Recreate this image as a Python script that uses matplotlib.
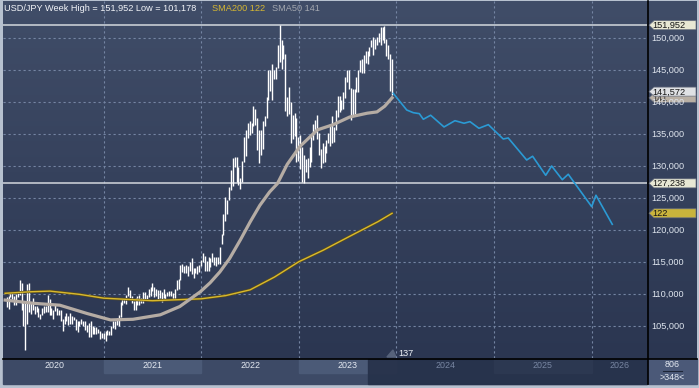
import numpy as np
import pandas as pd
import matplotlib
matplotlib.use("Agg")
import matplotlib.pyplot as plt
from matplotlib.patches import Rectangle, Polygon
from matplotlib.colors import LinearSegmentedColormap

plt.rcParams['font.family'] = ['Liberation Sans', 'DejaVu Sans']

# ---------------- data ----------------
week_start = "2019-12-30"
highs_2020 = [109.55, 109.65, 110.3, 110.2, 109.6, 110.0, 110.15, 112.2, 111.7, 108.5, 108.5, 111.5, 111.7,
              108.7, 109.4, 108.1, 108.1, 107.8, 106.9, 107.8, 108.1, 108.1, 109.85, 109.2, 107.7, 107.4,
              108.2, 107.8, 107.4, 107.4, 106.0, 106.5, 107.05, 106.5, 106.95, 106.55, 106.4, 106.0, 105.7,
              105.8, 106.1, 105.75, 105.75, 105.1, 105.35, 105.7, 104.9, 104.75, 104.75, 104.45, 104.2,
              103.85, 103.8]
lows_2020 = [107.85, 107.65, 109.45, 109.2, 108.3, 108.3, 109.55, 109.75, 107.5, 105.0, 101.178, 105.2, 107.2,
             106.9, 107.5, 106.9, 107.2, 106.4, 106.0, 106.7, 107.0, 107.1, 107.2, 106.6, 106.6, 106.1,
             107.3, 106.6, 106.6, 105.7, 104.2, 105.3, 105.8, 105.1, 105.2, 105.2, 105.9, 104.3, 104.0,
             104.9, 105.2, 105.0, 104.3, 104.0, 103.2, 103.2, 103.65, 103.65, 103.7, 103.85, 102.9,
             103.1, 102.95]
highs_2021 = [104.1, 104.4, 104.1, 104.9, 105.8, 105.7, 106.2, 106.7, 108.65, 109.3, 109.4, 109.85, 110.97,
              110.5, 109.7, 108.9, 109.4, 109.7, 109.8, 109.4, 110.2, 110.3, 109.8, 110.8, 111.1, 111.65,
              111.0, 110.7, 110.6, 110.6, 110.3, 110.8, 109.9, 110.3, 110.4, 110.45, 110.05, 110.8, 112.1,
              112.25, 114.45, 114.7, 114.3, 114.45, 114.3, 114.95, 115.5, 113.95, 113.95, 114.3, 114.5, 115.2]
lows_2021 = [102.6, 103.5, 103.5, 103.5, 104.6, 104.5, 105.1, 105.0, 106.3, 108.2, 108.6, 108.4, 109.6,
             109.3, 108.6, 107.5, 107.5, 108.3, 108.3, 108.6, 108.6, 109.2, 109.2, 109.5, 109.7, 110.4,
             109.5, 109.6, 109.1, 109.35, 108.7, 109.4, 109.1, 109.6, 109.6, 109.6, 109.1, 109.1, 110.6,
             110.8, 112.1, 113.4, 113.3, 113.3, 112.7, 113.6, 113.1, 112.5, 113.2, 113.1, 113.4, 114.4]
highs_2022 = [116.35, 115.85, 115.05, 115.7, 115.5, 116.35, 115.8, 115.75, 115.8, 117.35, 119.4, 122.45, 125.1,
              124.7, 126.7, 129.4, 131.25, 131.35, 131.35, 129.8, 128.0, 130.8, 134.55, 135.6, 136.7, 137.0,
              136.6, 139.4, 138.9, 137.5, 135.6, 135.6, 137.0, 137.7, 140.8, 144.99, 144.95, 145.9, 144.9,
              145.4, 148.85, 151.952, 149.7, 148.8, 147.4, 140.8, 142.25, 139.9, 137.85, 138.2, 137.5, 134.5]
lows_2022 = [115.0, 113.5, 113.6, 113.5, 114.2, 114.9, 114.5, 114.4, 114.6, 114.7, 117.7, 119.1, 121.3,
             122.4, 124.7, 126.2, 126.9, 129.8, 127.5, 127.0, 126.4, 127.5, 130.6, 131.5, 134.3, 134.75,
             135.1, 136.2, 136.4, 132.5, 130.4, 131.7, 132.6, 136.2, 137.4, 140.3, 141.6, 140.3, 143.5,
             143.5, 145.3, 146.2, 145.1, 146.6, 138.5, 137.7, 138.05, 133.6, 134.1, 134.6, 130.6, 130.8]
highs_2023 = [134.8, 132.9, 131.6, 131.1, 131.2, 132.9, 134.7, 136.5, 137.1, 137.9, 135.1, 132.6, 133.6,
              133.0, 134.0, 135.1, 136.55, 137.8, 136.0, 138.75, 140.9, 140.9, 140.3, 141.5, 143.9, 145.0,
              144.9, 142.2, 142.0, 141.95, 143.9, 145.0, 146.55, 146.65, 147.35, 147.9, 147.95, 148.5,
              149.7, 150.15, 149.8, 150.1, 150.8, 151.7, 151.6, 151.9, 149.8, 148.8, 147.5, 146.6]
lows_2023 = [129.5, 127.5, 127.238, 129.0, 128.1, 129.8, 130.6, 134.0, 135.3, 134.1, 131.7, 129.6, 130.4,
             130.6, 132.0, 133.6, 133.0, 133.5, 133.7, 135.6, 137.6, 138.4, 138.7, 138.8, 140.6, 143.0,
             142.0, 137.2, 137.7, 138.1, 141.5, 141.5, 144.7, 144.5, 144.45, 146.0, 145.9, 147.2, 148.5,
             147.3, 148.3, 148.9, 149.3, 148.8, 149.7, 149.2, 147.2, 146.7, 141.6, 140.97]

sma50_t = [2019.99, 2020.28, 2020.55, 2020.83, 2021.07, 2021.30, 2021.58, 2021.78, 2021.99, 2022.09,
           2022.19, 2022.29, 2022.40, 2022.50, 2022.60, 2022.70, 2022.78, 2022.88, 2023.01, 2023.19,
           2023.35, 2023.52, 2023.70, 2023.80, 2023.88, 2023.955]
sma50_v = [109.0, 108.5, 108.2, 106.9, 105.9, 106.0, 106.7, 108.0, 110.3, 111.7,
           113.4, 115.5, 118.4, 121.2, 123.8, 125.9, 127.2, 130.2, 133.0, 135.6,
           136.4, 137.6, 138.2, 138.4, 139.3, 140.6]
sma200_t = [2019.99, 2020.25, 2020.45, 2020.75, 2021.0, 2021.5, 2022.0, 2022.25, 2022.5, 2022.75,
            2023.0, 2023.25, 2023.5, 2023.81, 2023.955]
sma200_v = [110.06, 110.3, 110.4, 109.9, 109.3, 108.9, 109.2, 109.7, 110.6, 112.6,
            115.0, 116.8, 118.8, 121.25, 122.56]

fc_t = [2023.967, 2024.105, 2024.172, 2024.234, 2024.275, 2024.350, 2024.487, 2024.599, 2024.692,
        2024.753, 2024.845, 2024.941, 2025.094, 2025.145, 2025.334, 2025.395, 2025.529, 2025.590,
        2025.699, 2025.760, 2026.0, 2026.044, 2026.211]
fc_v = [141.3, 138.7, 138.28, 138.13, 137.25, 137.88, 136.05, 137.03, 136.63, 136.88, 135.84, 136.41,
        134.17, 134.33, 130.89, 131.47, 128.5, 129.95, 127.81, 128.66, 123.6, 125.38, 120.84]

period_high = 151.952
period_low = 101.178
last_close = 141.572
support_level = 127.238
sma200_label = 122
sma50_label = 141
year_labels = [2020, 2021, 2022, 2023, 2024, 2025, 2026]
ytick_vals = [105, 110, 115, 120, 125, 130, 135, 140, 145, 150]
bar_count_label = "137"
right_top = "806"
right_bottom = ">348<"

highs = highs_2020 + highs_2021 + highs_2022 + highs_2023
lows = lows_2020 + lows_2021 + lows_2022 + lows_2023
dates = pd.date_range(week_start, periods=len(highs), freq="7D") + pd.Timedelta(days=4)
t_bars = dates.year + (dates.dayofyear - 1) / np.where(dates.is_leap_year, 366, 365)

FS = 6.6

def fmt(v):
    return f"{v:.3f}".replace('.', ',')

# ---------------- figure ----------------
W, H = 699, 388
fig = plt.figure(figsize=(W / 100, H / 100), dpi=100)
fig.patch.set_facecolor('#b7c1cf')

bg = fig.add_axes([0, 0, 1, 1])
bg.set_xlim(0, W)
bg.set_ylim(H, 0)
bg.axis('off')
grad = np.linspace(0, 1, 256).reshape(-1, 1)
cmap = LinearSegmentedColormap.from_list('g', ['#404d68', '#2b3651'])
bg.imshow(grad, extent=[3, 697, 359, 1], cmap=cmap, aspect='auto', zorder=0, interpolation='bilinear')

PL, PR, PT, PB = 3, 647, 1, 358
ax = fig.add_axes([PL / W, (H - PB) / H, (PR - PL) / W, (PB - PT) / H])
ax.set_facecolor('none')
ax.set_xlim(2019.968, 2026.567)
ax.set_ylim(99.95, 155.73)
for s in ax.spines.values():
    s.set_visible(False)

ax.set_yticks(ytick_vals)
ax.set_xticks(year_labels[1:])
ax.grid(True, color='#7585a3', lw=0.8, ls=(0, (2, 2.5)))
ax.tick_params(axis='x', length=0, labelbottom=False)
ax.yaxis.tick_right()
ax.tick_params(axis='y', length=0, pad=3.2, labelsize=FS, labelcolor='#dfe5ee')
ax.set_yticklabels([fmt(v) for v in ytick_vals])

ax.axhline(period_high, color='#d4d8de', lw=1.1, zorder=3)
ax.axhline(support_level, color='#d4d8de', lw=1.1, zorder=3)

ax.vlines(t_bars, lows, highs, color='white', lw=1.0, zorder=4)
ax.plot(sma200_t, sma200_v, color='#5a4d1c', lw=2.0, zorder=5, solid_capstyle='round')
ax.plot(sma200_t, sma200_v, color='#d8b92e', lw=1.0, zorder=5)
ax.plot(sma50_t, sma50_v, color='#b5aca4', lw=2.3, zorder=5)
ax.plot(fc_t, fc_v, color='#2b9ad4', lw=1.2, zorder=5)

fig.canvas.draw()

def px(t):
    return ax.transData.transform((t, 0))[0]

def py(v):
    return H - ax.transData.transform((2020, v))[1]

# ---------------- bottom date band ----------------
bg.add_patch(Rectangle((3, 359), 644, 25, color='#3d4a66', zorder=1))
future_x = px(t_bars[-1]) - 24
for yr in year_labels:
    x0 = max(px(yr), PL)
    x1 = min(px(yr + 1), PR)
    if yr % 2 == 1:
        bg.add_patch(Rectangle((x0, 359), x1 - x0, 14, color='#4b5a77', zorder=1.5))
bg.add_patch(Rectangle((future_x, 359), PR - future_x, 25, color='#26314a', alpha=0.92, zorder=2))
for yr in year_labels[4:]:
    if yr % 2 == 1:
        x0 = max(px(yr), PL)
        x1 = min(px(yr + 1), PR)
        bg.add_patch(Rectangle((x0, 359), x1 - x0, 14, color='#2c3851', zorder=2.2))
for yr in year_labels:
    x0 = max(px(yr), PL)
    x1 = min(px(yr + 1), PR)
    col = '#e4e9f1' if yr <= 2023 else '#7886a2'
    bg.text((x0 + x1) / 2, 366, str(yr), ha='center', va='center', fontsize=6.4, color=col, zorder=3)

bg.add_patch(Rectangle((648, 359), 49, 25, color='#4b5978', zorder=1))
bg.text(672.5, 364.5, right_top, ha='center', va='center', fontsize=6.4, color='#e4e9f1', zorder=3)
bg.plot([663, 682], [370.5, 370.5], color='#1e2638', lw=0.8, zorder=3)
bg.text(672.5, 377.5, right_bottom, ha='center', va='center', fontsize=6.4, color='#e4e9f1', zorder=3)

bg.plot([PL, 697], [358.5, 358.5], color='black', lw=1.2, zorder=6)
bg.plot([647.5, 647.5], [1, 384], color='black', lw=1.2, zorder=6)

# marker at bottom
bx = px(t_bars[-1])
bg.add_patch(Polygon([[bx - 5, 357], [bx + 1, 350], [bx + 4, 357]], closed=True, color='#56627a', zorder=3))
bg.text(bx + 6, 353, bar_count_label, ha='left', va='center', fontsize=FS, color='#eef2f7', zorder=7)

# ---------------- title ----------------
bg.text(4, 8.5, f"USD/JPY Week High = {fmt(period_high)} Low = {fmt(period_low)}",
        ha='left', va='center', fontsize=FS, color='#f2f4f8', zorder=7)
bg.text(212, 8.5, f"SMA200 {sma200_label}", ha='left', va='center', fontsize=FS, color='#d6b732', zorder=7)
bg.text(271.5, 8.5, f"SMA50 {sma50_label}", ha='left', va='center', fontsize=FS, color='#a4a8b0', zorder=7)

# ---------------- value tags ----------------
def tag(v, text, face, zo, tcol='#151515'):
    y = py(v)
    h = 9.0
    poly = [[649, y], [654, y - h / 2], [696, y - h / 2], [696, y + h / 2], [654, y + h / 2]]
    bg.add_patch(Polygon(poly, closed=True, facecolor=face, edgecolor='#6a7180', lw=0.5, zorder=zo))
    bg.text(652.5, y + 0.3, text, ha='left', va='center', fontsize=FS, color=tcol, zorder=zo + 0.1)

tag(sma50_v[-1], f"{sma50_label}", '#b9b0a5', 8, tcol='#3a3a3a')
tag(last_close, fmt(last_close), '#dfe1e4', 9)
tag(period_high, fmt(period_high), '#e8e8d4', 9)
tag(support_level, fmt(support_level), '#e8e8d4', 9)
tag(sma200_v[-1], f"{sma200_label}", '#c9b43c', 9)

fig.savefig("out.png", dpi=100, facecolor=fig.get_facecolor())
